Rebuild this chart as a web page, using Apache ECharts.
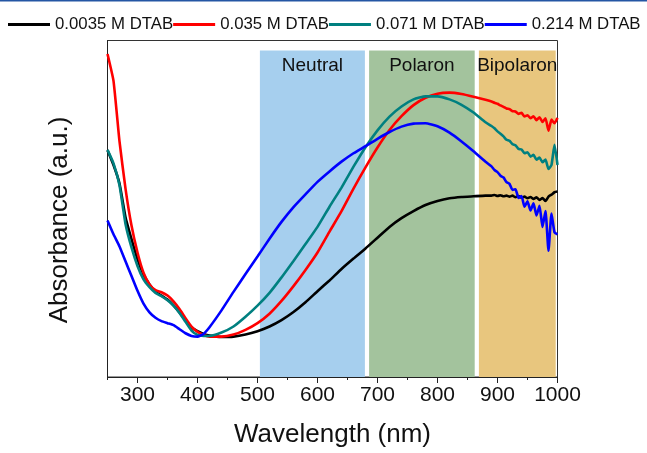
<!DOCTYPE html>
<html>
<head>
<meta charset="utf-8">
<script src="https://cdn.jsdelivr.net/npm/echarts@6/dist/echarts.min.js"></script>
<style>
html,body{margin:0;padding:0;background:#fff;}
#chart{width:647px;height:453px;}
</style>
</head>
<body>
<div id="chart"></div>
<script>
// Wavelength grid (nm)
const wavelengths = [
  250,260,270,280,290,300,310,320,330,340,350,360,370,380,390,400,410,420,
  440,460,480,500,520,540,560,580,600,620,640,660,680,700,720,740,760,780,800,820,840,860,880,
  890,895,900,905,910,915,920,925,930,935,940,945,950,955,960,965,970,975,980,985,990,995,1000
];
const seriesNames = ['0.0035 M DTAB', '0.035 M DTAB', '0.071 M DTAB', '0.214 M DTAB'];
const black0035 = [
  67.4,63,57.5,47.5,41,35,30.5,27.5,25.3,24.2,23,21.3,19.2,16.8,14.8,13.6,12.8,12.3,
  11.9,12,12.6,13.6,15,16.9,19.3,22.2,25.5,28.7,32.1,35.2,38.2,41.4,44.6,47.2,49.3,51.1,52.3,53.1,53.5,53.7,53.9,
  53.9,54.1,53.8,54.0,53.7,53.9,53.6,53.9,53.4,53.8,53.3,53.6,53.1,53.5,52.9,53.4,52.6,53.2,52.3,53.6,54.2,54.9,55.1
];
const red035 = [
  96,88,70,56,45,37,31,27.5,25.8,25.2,24.2,22.5,20.2,17.5,15,13.4,12.5,12,
  12,12.6,14,16,18.8,22.6,27,31.8,37,43.2,49.3,56,62.3,68.2,73.4,77.5,80.8,83,84.2,84.5,84.1,83.3,82.4,
  81.9,81.5,81.2,80.7,80.3,79.8,79.6,79.0,78.9,78.2,78.5,77.4,77.8,76.9,77.5,76.3,77.2,75.8,76.9,73.2,76.5,75.4,77
];
const teal071 = [
  67.5,63.5,57,45.5,38.5,33,29,26.7,25,24,22.8,21.2,19,16.4,13.8,12.5,12.2,12.2,
  13.2,15,17.9,21.2,25,29.6,34.5,39.5,44.6,50.6,56.3,62.5,68.3,73.3,77.4,80.4,82.5,83.4,83.4,82.5,80.9,78.6,75.7,
  74.6,73.9,73.0,72.3,71.5,70.5,70.2,69.2,68.9,67.8,67.6,66.5,66.8,65.5,66.0,64.6,65.2,63.8,64.6,61.8,63.0,69.0,63
];
const blue214 = [
  46.5,42.4,38.8,34.4,30,25.6,21.8,19.2,17.6,16.6,16,15.4,14.2,13,12.2,12,12.8,14.8,
  19.8,25.3,30.6,35.8,41.1,46.1,50.5,54.3,58,61.1,64,66.5,68.6,70.8,72.8,74.4,75.3,75.4,74.5,72.6,70,67.1,64,
  62.6,61.5,60.9,59.8,59.3,57.9,57.4,55.6,55.8,53.2,53.8,50.6,52.2,49.5,51.6,48.0,50.9,44.6,49.3,37.5,48.6,43.0,42.4
];
const seriesValues = [black0035, red035, teal071, blue214];
const seriesColors = ['#000000', '#ff0000', '#008080', '#0000ff'];

// Shaded regions
const regionNames = ['Neutral', 'Polaron', 'Bipolaron'];
const regionStart = [504, 686, 869];
const regionEnd = [679, 862, 997];
const regionColors = ['#a6cfee', '#a3c39d', '#e8c67e'];
const regionTop = 97;

// Tick labels
const majorTicks = [300, 400, 500, 600, 700, 800, 900, 1000];
const minorTicks = [250, 350, 450, 550, 650, 750, 850, 950];

const FONT = 'Arial, "Liberation Sans", sans-serif';
const chart = echarts.init(document.getElementById('chart'), null, {renderer: 'canvas'});

const lineSeries = seriesNames.map((name, i) => ({
  name: name,
  type: 'line',
  data: wavelengths.map((w, j) => [w, seriesValues[i][j]]),
  showSymbol: false,
  symbol: 'none',
  smooth: 0.15,
  lineStyle: {color: seriesColors[i], width: 2.6},
  itemStyle: {color: seriesColors[i]},
  z: 3,
  animation: false
}));

const areaSeries = {
  name: 'regions',
  type: 'line',
  data: [],
  z: 1,
  silent: true,
  animation: false,
  markArea: {
    silent: true,
    animation: false,
    data: regionNames.map((n, i) => [
      {
        name: n, xAxis: regionStart[i], yAxis: 0,
        itemStyle: {color: regionColors[i], opacity: 1},
        label: {show: true, position: 'insideTop', distance: 6, color: '#111', fontSize: 19, fontFamily: FONT}
      },
      {xAxis: regionEnd[i], yAxis: regionTop}
    ])
  }
};

chart.setOption({
  animation: false,
  backgroundColor: '#ffffff',
  textStyle: {fontFamily: FONT},
  graphic: [{
    type: 'rect', shape: {x: 0, y: 0, width: 647, height: 1.5},
    style: {fill: '#2456a4'}, silent: true
  }, {
    type: 'text', x: 60, y: 220, rotation: Math.PI / 2,
    style: {text: 'Absorbance (a.u.)', fontSize: 26, fill: '#111', font: '26px ' + FONT,
            textAlign: 'center', textVerticalAlign: 'middle'},
    silent: true
  }],
  legend: {
    data: seriesNames,
    left: 8,
    top: 16,
    padding: 0,
    width: 700,
    icon: 'rect',
    itemWidth: 42,
    itemHeight: 3,
    itemGap: 0,
    textStyle: {fontSize: 16.8, color: '#111', fontFamily: FONT}
  },
  grid: {
    left: 107.5, right: 89.5, top: 40.5, bottom: 72.5,
    show: true, borderColor: '#333', borderWidth: 1, backgroundColor: 'transparent'
  },
  xAxis: [{
    type: 'value',
    min: 250, max: 1000, interval: 50,
    name: 'Wavelength (nm)',
    nameLocation: 'middle',
    nameGap: 45,
    nameTextStyle: {fontSize: 26, color: '#111', fontFamily: FONT},
    axisLine: {show: true, onZero: false, lineStyle: {color: '#222', width: 1}},
    axisTick: {show: true, inside: false, length: 6, customValues: majorTicks, lineStyle: {color: '#222'}},
    axisLabel: {show: true, customValues: majorTicks, margin: 8, fontSize: 21, color: '#111', fontFamily: FONT,
                formatter: v => String(v)},
    splitLine: {show: false}
  }, {
    type: 'value',
    min: 250, max: 1000, interval: 50,
    position: 'bottom',
    axisLine: {show: false, onZero: false},
    axisTick: {show: true, inside: false, length: 3, customValues: minorTicks, lineStyle: {color: '#222'}},
    axisLabel: {show: false},
    splitLine: {show: false}
  }],
  yAxis: {
    type: 'value',
    min: 0, max: 100,
    axisLine: {show: true, lineStyle: {color: '#222', width: 1}},
    axisTick: {show: false},
    axisLabel: {show: false},
    splitLine: {show: false}
  },
  series: [areaSeries].concat(lineSeries)
});
</script>
</body>
</html>
